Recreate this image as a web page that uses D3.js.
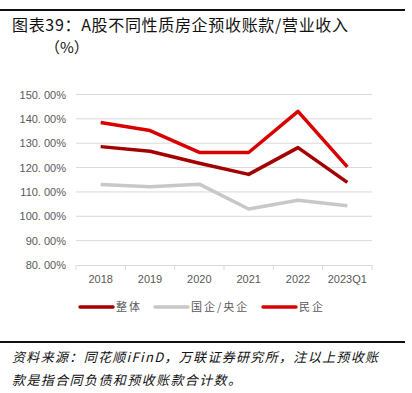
<!DOCTYPE html>
<html>
<head>
<meta charset="utf-8">
<script src="https://cdn.jsdelivr.net/npm/d3@7"></script>
<style>
  body { margin: 0; background: #fff; }
  svg { display: block; }
</style>
</head>
<body>
<svg id="chart" width="412" height="393"></svg>
<script>
var years = ["2018", "2019", "2020", "2021", "2022", "2023Q1"];
var zhengti = [128.6, 126.7, 121.8, 117.2, 128.2, 113.9];
var guoqi = [113.1, 112.1, 113.2, 103.0, 106.6, 104.3];
var minqi = [138.5, 135.2, 126.2, 126.2, 143.1, 120.3];
var seriesNames = ["整体", "国企/央企", "民企"];
var seriesColors = ["#A30000", "#C8C8C8", "#D90000"];
var yTicks = [80, 90, 100, 110, 120, 130, 140, 150];

var svg = d3.select("#chart");
var cjk = "'Noto Sans CJK SC', sans-serif";

// frame lines and title
svg.append("rect").attr("x", 0).attr("y", 9).attr("width", 405).attr("height", 2).attr("fill", "#111");
svg.append("text").attr("x", 12).attr("y", 31)
  .attr("font-family", cjk).attr("font-size", 16).attr("fill", "#111")
  .attr("textLength", 336).attr("lengthAdjust", "spacing")
  .text("图表39：A股不同性质房企预收账款/营业收入");
svg.append("text").attr("x", 45).attr("y", 53)
  .attr("font-family", cjk).attr("font-size", 15).attr("fill", "#111")
  .text("（%）");

var x = d3.scaleBand().domain(years).range([76, 372]);
var y = d3.scaleLinear().domain([80, 150]).range([265, 94.5]);

// gridlines
svg.append("g").selectAll("line").data(yTicks.slice(1)).enter().append("line")
  .attr("x1", 76).attr("x2", 372)
  .attr("y1", function (d) { return y(d); }).attr("y2", function (d) { return y(d); })
  .attr("stroke", "#D9D9D9").attr("stroke-width", 1);

// y axis labels
svg.append("g").selectAll("text").data(yTicks).enter().append("text")
  .attr("x", 66).attr("y", function (d) { return y(d) + 4; })
  .attr("text-anchor", "end")
  .attr("font-family", "'Liberation Sans', Arial, sans-serif").attr("font-size", 11)
  .attr("fill", "#595959")
  .text(function (d) { return d.toFixed(0) + ". 00%"; });

// x axis
var xAxis = d3.axisBottom(x).tickSize(0).tickSizeOuter(0);
var gx = svg.append("g").attr("transform", "translate(0," + y(80) + ")").call(xAxis);
gx.select(".domain").attr("stroke", "#D9D9D9");
gx.selectAll("text").attr("dy", 0).attr("y", 18)
  .attr("font-family", "'Liberation Sans', Arial, sans-serif").attr("font-size", 11)
  .attr("fill", "#595959");
var bounds = [76].concat(years.map(function (d) { return x(d) + x.bandwidth(); }));
gx.selectAll("line.bt").data(bounds).enter().append("line").attr("class", "bt")
  .attr("x1", function (d) { return d; }).attr("x2", function (d) { return d; })
  .attr("y1", 0).attr("y2", 5).attr("stroke", "#D9D9D9");

// lines
var allSeries = [zhengti, guoqi, minqi];
var line = d3.line()
  .x(function (d, i) { return x(years[i]) + x.bandwidth() / 2; })
  .y(function (d) { return y(d); });
var drawOrder = [1, 0, 2];
drawOrder.forEach(function (k) {
  svg.append("path").datum(allSeries[k])
    .attr("d", line).attr("fill", "none")
    .attr("stroke", seriesColors[k]).attr("stroke-width", 3.5)
    .attr("stroke-linejoin", "round");
});

// legend
var legendX = [80, 155, 263];
seriesNames.forEach(function (name, i) {
  var g = svg.append("g").attr("transform", "translate(" + legendX[i] + ",307)");
  g.append("line").attr("x1", 0).attr("x2", 33).attr("y1", 0).attr("y2", 0)
    .attr("stroke", seriesColors[i]).attr("stroke-width", 3.5).attr("stroke-linecap", "round");
  g.append("text").attr("x", 36).attr("y", 4)
    .attr("font-family", cjk).attr("font-size", 11).attr("fill", "#595959")
    .attr("letter-spacing", 2)
    .text(name);
});

// source
svg.append("rect").attr("x", 0).attr("y", 341).attr("width", 405).attr("height", 2).attr("fill", "#111");
svg.append("text").attr("x", 12).attr("y", 362)
  .attr("font-family", cjk).attr("font-size", 13).attr("font-style", "italic").attr("fill", "#111")
  .attr("textLength", 366).attr("lengthAdjust", "spacing")
  .text("资料来源：同花顺iFinD，万联证券研究所，注以上预收账");
svg.append("text").attr("x", 12).attr("y", 385)
  .attr("font-family", cjk).attr("font-size", 13).attr("font-style", "italic").attr("fill", "#111")
  .attr("letter-spacing", 1.4)
  .text("款是指合同负债和预收账款合计数。");
</script>
</body>
</html>
